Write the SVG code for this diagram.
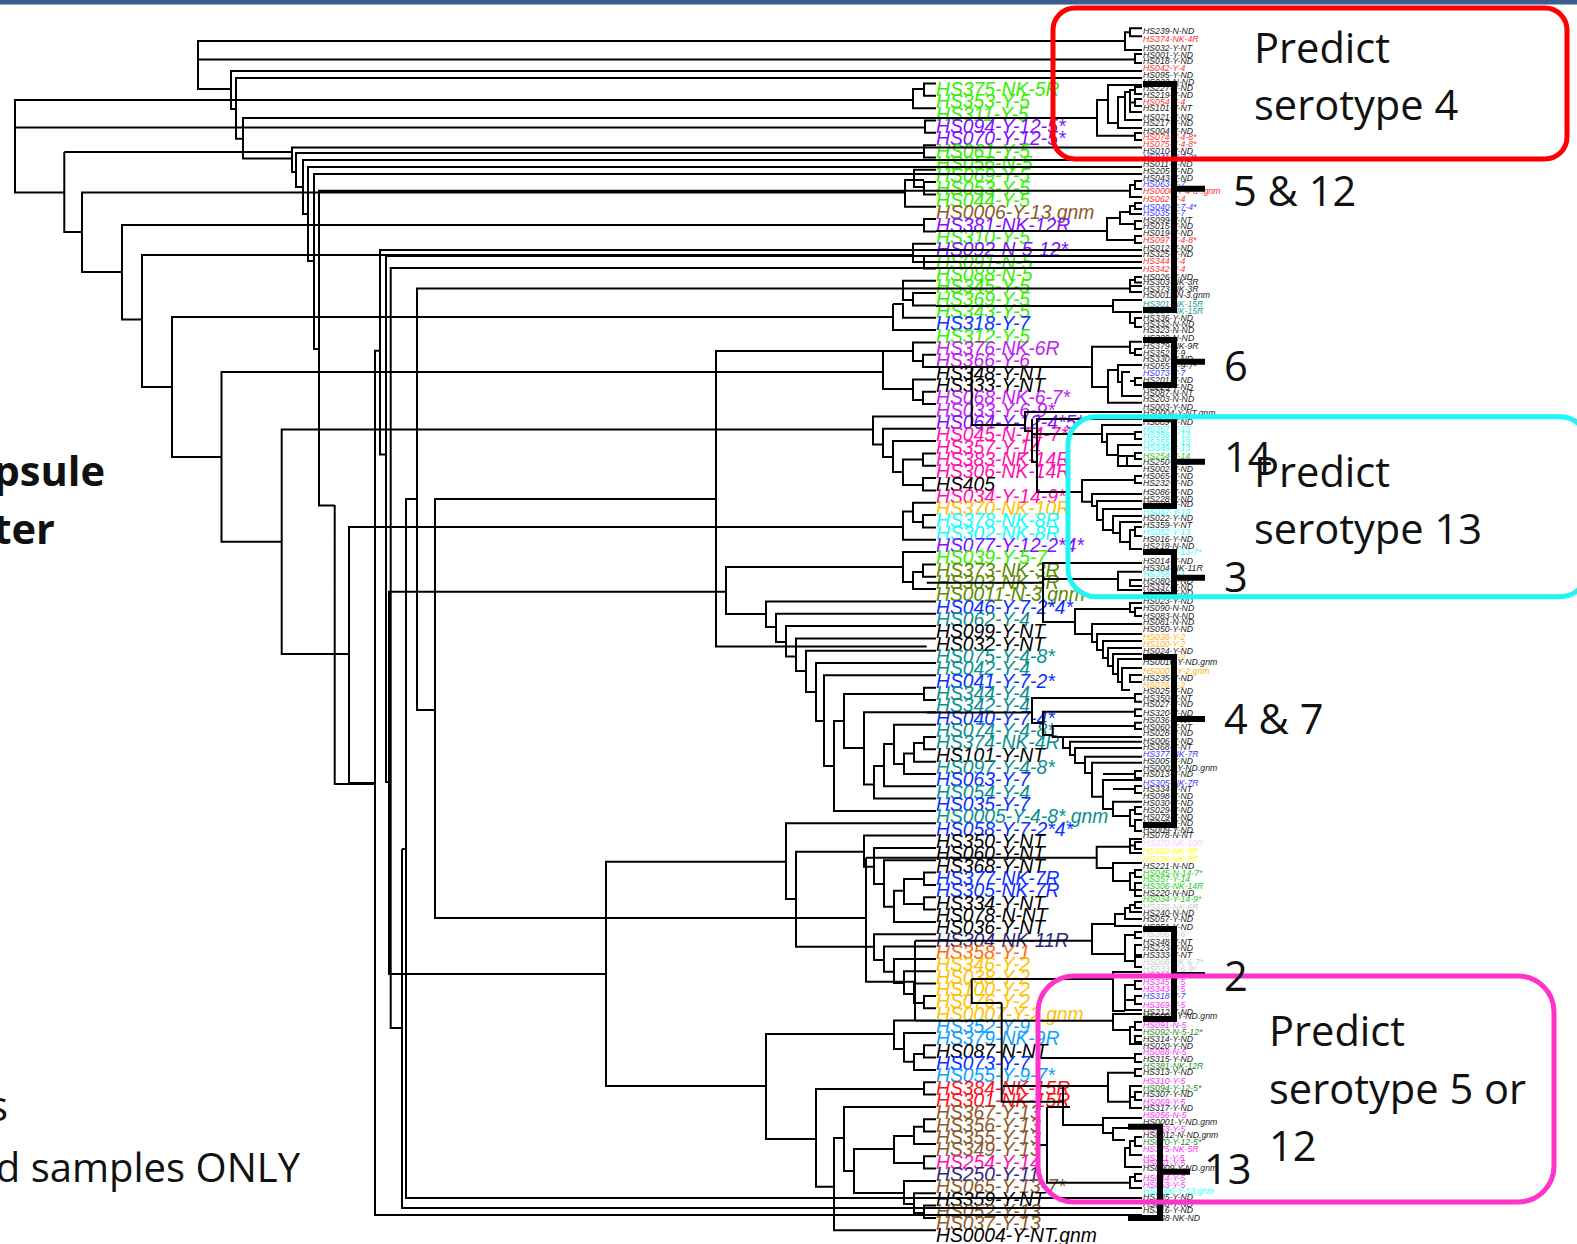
<svg xmlns="http://www.w3.org/2000/svg" width="1577" height="1244" viewBox="0 0 1577 1244">
<style>
text{font-family:"Liberation Sans",Arial,sans-serif}
.l text{font-size:21px;font-style:italic;fill:#000}
.r text{font-size:9.4px;font-style:italic;fill:#222}
.big text{font-family:"Open Sans","Liberation Sans",sans-serif;font-size:41.6px;fill:#111}
.t{fill:none;stroke:#000;stroke-width:2}
.bar{fill:none;stroke:#000;stroke-width:6}
.box{fill:none;stroke-width:5}
.g{fill:#33f000!important}.p{fill:#8010ff!important}.bn{fill:#8b5a2b!important}.b{fill:#0a30ff!important}
.m{fill:#c020f0!important}.k{fill:#ff10b0!important}.y{fill:#ffc000!important}.c{fill:#1ff!important}
.o{fill:#5a8a00!important}.e{fill:#0a8f8f!important}.f{fill:#ff6a10!important}.s{fill:#10a0ff!important}
.d{fill:#ff1020!important}.n{fill:#2a2a80!important}
.R{fill:#ff3030!important}.B{fill:#3a3aff!important}.C{fill:#33ffff!important}.O{fill:#ffb020!important}
.T{fill:#2a9d9d!important}.G{fill:#22cc22!important}.D{fill:#228b22!important}.M{fill:#ff30ff!important}
.W{fill:#ccc!important}.P{fill:#fcf!important}.Y{fill:#ffff20!important}
</style>
<rect id="top-bar" x="0" y="0" width="1577" height="4.5" fill="#3a5f8f"/>
<g id="left-labels" class="l" transform="translate(936,2) scale(.92,1)">
<text y="94" class="g">HS375-NK-5R</text><text y="106.3" class="g">HS353-Y-5</text><text y="118.7" class="g">HS311-Y-5</text><text y="131" class="p">HS094-Y-12-5*</text><text y="143.3" class="p">HS070-Y-12-5*</text><text y="155.7" class="g">HS061-Y-5</text><text y="168" class="g">HS056-N-5</text><text y="180.3" class="g">HS069-Y-5</text><text y="192.6" class="g">HS053-Y-5</text><text y="205" class="g">HS044-Y-5</text><text y="217.3" class="bn">HS0006-Y-13.gnm</text><text y="229.6" class="p">HS381-NK-12R</text><text y="242" class="g">HS310-Y-5</text><text y="254.3" class="p">HS092-N-5-12*</text><text y="266.6" class="g">HS091-N-5</text><text y="279" class="g">HS088-N-5</text><text y="291.3" class="g">HS345-Y-5</text><text y="303.6" class="g">HS369-Y-5</text><text y="315.9" class="g">HS343-Y-5</text><text y="328.3" class="b">HS318-Y-7</text><text y="340.6" class="g">HS312-Y-5</text><text y="352.9" class="m">HS376-NK-6R</text><text y="365.3" class="m">HS366-Y-6</text><text y="377.6">HS348-Y-NT</text><text y="389.9">HS333-Y-NT</text><text y="402.3" class="m">HS068-NK-6-7*</text><text y="414.6" class="m">HS033-Y-6-9*</text><text y="426.9" class="p">HS064-Y-12-4*5*</text><text y="439.2" class="k">HS045-N-14-7*</text><text y="451.6" class="k">HS357-Y-14</text><text y="463.9" class="k">HS383-NK-14R</text><text y="476.2" class="k">HS306-NK-14R</text><text y="488.6">HS405</text><text y="500.9" class="k">HS034-Y-14-9*</text><text y="513.2" class="y">HS370-NK-10R</text><text y="525.5" class="c">HS378-NK-8R</text><text y="537.9" class="c">HS302-NK-8R</text><text y="550.2" class="p">HS077-Y-12-2*4*</text><text y="562.5" class="g">HS039-Y-5-7</text><text y="574.9" class="o">HS373-NK-3R</text><text y="587.2" class="o">HS303-NK-3R</text><text y="599.5" class="o">HS0011-N-3.gnm</text><text y="611.9" class="b">HS046-Y-7-2*4*</text><text y="624.2" class="e">HS062-Y-4</text><text y="636.5">HS099-Y-NT</text><text y="648.9">HS032-Y-NT</text><text y="661.2" class="e">HS075-Y-4-8*</text><text y="673.5" class="e">HS042-Y-4</text><text y="685.8" class="b">HS041-Y-7-2*</text><text y="698.2" class="e">HS344-Y-4</text><text y="710.5" class="e">HS342-Y-4</text><text y="722.8" class="b">HS040-Y-7-4*</text><text y="735.2" class="e">HS074-Y-4-8*</text><text y="747.5" class="e">HS374-NK-4R</text><text y="759.8">HS101-Y-NT</text><text y="772.2" class="e">HS097-Y-4-8*</text><text y="784.5" class="b">HS063-Y-7</text><text y="796.8" class="e">HS054-Y-4</text><text y="809.1" class="b">HS035-Y-7</text><text y="821.5" class="e">HS0005-Y-4-8*.gnm</text><text y="833.8" class="b">HS058-Y-7-2*4*</text><text y="846.1">HS350-Y-NT</text><text y="858.5">HS060-Y-NT</text><text y="870.8">HS368-Y-NT</text><text y="883.1" class="b">HS377-NK-7R</text><text y="895.5" class="b">HS305-NK-7R</text><text y="907.8">HS334-Y-NT</text><text y="920.1">HS078-N-NT</text><text y="932.4">HS036-Y-NT</text><text y="944.8" class="n">HS304-NK-11R</text><text y="957.1" class="f">HS358-Y-1</text><text y="969.4" class="y">HS346-Y-2</text><text y="981.8" class="y">HS038-Y-2</text><text y="994.1" class="y">HS100-Y-2</text><text y="1006.4" class="y">HS076-Y-2</text><text y="1018.8" class="y">HS0007-Y-2.gnm</text><text y="1031.1" class="s">HS352-Y-9</text><text y="1043.4" class="s">HS379-NK-9R</text><text y="1055.7">HS087-N-NT</text><text y="1068.1" class="b">HS073-Y-7</text><text y="1080.4" class="s">HS055-Y-9-7*</text><text y="1092.7" class="d">HS384-NK-15R</text><text y="1105.1" class="d">HS301-NK-15R</text><text y="1117.4" class="bn">HS367-Y-13</text><text y="1129.7" class="bn">HS356-Y-13</text><text y="1142.1" class="bn">HS355-Y-13</text><text y="1154.4" class="bn">HS349-Y-13</text><text y="1166.7" class="k">HS254-Y-14</text><text y="1179" class="n">HS250-Y-11</text><text y="1191.4" class="bn">HS065-Y-13-7*</text><text y="1203.7">HS359-Y-NT</text><text y="1216" class="bn">HS052-Y-13</text><text y="1228.4" class="bn">HS037-Y-13</text><text y="1240">HS0004-Y-NT.gnm</text>
</g>
<g id="right-labels" class="r" transform="translate(1143,0) scale(.925,1)">
<text y="34">HS239-N-ND</text><text y="42" class="R">HS374-NK-4R</text><text y="51">HS032-Y-NT</text><text y="57.7">HS001-Y-ND</text><text y="64">HS018-Y-ND</text><text y="71" class="R">HS042-Y-4</text><text y="78">HS095-Y-ND</text><text y="84.7">HS022-N-ND</text><text y="91.3">HS227-Y-ND</text><text y="98">HS219-Y-ND</text><text y="104.7" class="R">HS054-Y-4</text><text y="111.3">HS101-Y-NT</text><text y="119.7">HS021-Y-ND</text><text y="126">HS217-Y-ND</text><text y="133.7">HS004-Y-ND</text><text y="140" class="R">HS074-Y-4-8*</text><text y="147" class="R">HS075-Y-4-8*</text><text y="153.7">HS010-Y-ND</text><text y="160" class="B">HS041-Y-7-2*</text><text y="167">HS011-Y-ND</text><text y="173.7">HS205-Y-ND</text><text y="180.7">HS043-Y-ND</text><text y="187.3" class="B">HS063-Y-7</text><text y="194" class="R">HS0008-Y-4-8*.gnm</text><text y="202" class="R">HS062-Y-4</text><text y="209.7" class="B">HS040-Y-7-4*</text><text y="216" class="B">HS035-Y-7</text><text y="223">HS099-Y-NT</text><text y="229">HS015-Y-ND</text><text y="236">HS019-Y-ND</text><text y="243" class="R">HS097-Y-4-8*</text><text y="251">HS012-Y-ND</text><text y="257">HS325-Y-ND</text><text y="264" class="R">HS344-Y-4</text><text y="272" class="R">HS342-Y-4</text><text y="280">HS026-Y-ND</text><text y="285">HS303-NK-3R</text><text y="292">HS373-NK-3R</text><text y="298">HS0011-N-3.gnm</text><text y="307" class="T">HS301-NK-15R</text><text y="314" class="T">HS384-NK-15R</text><text y="321">HS336-Y-ND</text><text y="327">HS332-N-ND</text><text y="333">HS323-N-ND</text><text y="341">HS309-N-ND</text><text y="348.7">HS379-NK-9R</text><text y="355.7">HS352-Y-9</text><text y="362">HS330-Y-ND</text><text y="369">HS055-Y-9-7*</text><text y="376" class="B">HS073-Y-7</text><text y="383">HS201-Y-ND</text><text y="390">HS225-Y-ND</text><text y="396">HS087-N-NT</text><text y="402">HS203-N-ND</text><text y="409.7">HS003-Y-ND</text><text y="416">HS0004-Y-NT.gnm</text><text y="424.7">HS089-Y-ND</text><text y="432" class="C">HS367-Y-13</text><text y="438" class="C">HS356-Y-13</text><text y="444.7" class="C">HS355-Y-13</text><text y="451" class="C">HS349-Y-13</text><text y="458.7" class="G">HS254-Y-14</text><text y="465">HS250-Y-11</text><text y="472">HS002-Y-ND</text><text y="478.7">HS065-Y-ND</text><text y="485.7">HS232-Y-ND</text><text y="494.7">HS086-Y-ND</text><text y="502">HS228-Y-ND</text><text y="507">HS229-Y-ND</text><text y="514.7" class="C">HS037-Y-13</text><text y="521">HS022-Y-ND</text><text y="528">HS359-Y-NT</text><text y="534.7" class="C">HS052-Y-13</text><text y="542">HS016-Y-ND</text><text y="548.7">HS218-N-ND</text><text y="554.7" class="C">HS065-Y-13-7*</text><text y="563.7">HS014-Y-ND</text><text y="570.7">HS304-NK-11R</text><text y="577" class="C">HS358-Y-1</text><text y="583.7">HS080-Y-ND</text><text y="590">HS337-Y-ND</text><text y="596">HS300-Y-ND</text><text y="604">HS023-Y-ND</text><text y="611">HS090-N-ND</text><text y="618.7">HS083-N-ND</text><text y="625">HS081-N-ND</text><text y="632">HS050-Y-ND</text><text y="640" class="O">HS038-Y-2</text><text y="647" class="O">HS100-Y-2</text><text y="654">HS024-Y-ND</text><text y="660" class="O">HS346-Y-2</text><text y="665">HS0010-Y-ND.gnm</text><text y="673.7" class="O">HS0007-Y-2.gnm</text><text y="680.7">HS235-Y-ND</text><text y="687.7" class="O">HS076-Y-2</text><text y="694">HS025-Y-ND</text><text y="700.7">HS350-Y-NT</text><text y="707">HS027-Y-ND</text><text y="716">HS320-Y-ND</text><text y="723">HS036-Y-NT</text><text y="729.7">HS060-Y-NT</text><text y="736">HS028-Y-ND</text><text y="743.7">HS006-Y-ND</text><text y="749.7">HS368-Y-NT</text><text y="757" class="B">HS377-NK-7R</text><text y="763.7">HS005-Y-ND</text><text y="771">HS0002-Y-ND.gnm</text><text y="777">HS013-Y-ND</text><text y="785.7" class="B">HS305-NK-7R</text><text y="792">HS334-Y-NT</text><text y="799">HS098-Y-ND</text><text y="805.7">HS030-Y-ND</text><text y="813">HS029-Y-ND</text><text y="819.7">HS079-Y-ND</text><text y="826">HS070-Y-ND</text><text y="833">HS009-Y-ND</text><text y="838">HS078-N-NT</text><text y="846" class="P">HS370-NK-10R</text><text y="854" class="Y">HS302-NK-8R</text><text y="862" class="Y">HS378-NK-8R</text><text y="868.7">HS221-N-ND</text><text y="875.7" class="G">HS045-N-14-7*</text><text y="882" class="G">HS357-Y-14</text><text y="889" class="G">HS306-NK-14R</text><text y="895.7">HS220-N-ND</text><text y="902" class="G">HS034-Y-14-9*</text><text y="909.7" class="W">HS376-NK-6R</text><text y="915.7">HS240-N-ND</text><text y="922">HS057-Y-ND</text><text y="929.7">HS051-Y-ND</text><text y="937" class="W">HS366-Y-6</text><text y="944.7">HS348-Y-NT</text><text y="951">HS223-Y-ND</text><text y="958">HS333-Y-NT</text><text y="965" class="W">HS068-NK-6-7*</text><text y="972" class="W">HS033-Y-6-9*</text><text y="978" class="M">HS312-Y-5</text><text y="984.7" class="M">HS345-Y-5</text><text y="992" class="M">HS343-Y-5</text><text y="999" class="B">HS318-Y-7</text><text y="1008" class="M">HS369-Y-5</text><text y="1014.7">HS212-Y-ND</text><text y="1019">HS0003-Y-ND.gnm</text><text y="1028" class="M">HS091-N-5</text><text y="1034.7" class="D">HS092-N-5-12*</text><text y="1042">HS314-Y-ND</text><text y="1048.7">HS020-Y-ND</text><text y="1054.7" class="M">HS088-N-5</text><text y="1061.7">HS315-Y-ND</text><text y="1068.7" class="D">HS381-NK-12R</text><text y="1075">HS313-Y-ND</text><text y="1083.7" class="M">HS310-Y-5</text><text y="1090.7" class="D">HS094-Y-12-5*</text><text y="1097.3">HS307-Y-ND</text><text y="1104.7" class="M">HS069-Y-5</text><text y="1110.7">HS317-Y-ND</text><text y="1118" class="M">HS056-N-5</text><text y="1125">HS0001-Y-ND.gnm</text><text y="1131.7" class="M">HS353-Y-5</text><text y="1138">HS0012-N-ND.gnm</text><text y="1144.7" class="D">HS070-Y-12-5*</text><text y="1152" class="M">HS375-NK-5R</text><text y="1160.7" class="M">HS311-Y-5</text><text y="1166" class="M">HS061-Y-5</text><text y="1171.3">HS0009-Y-ND.gnm</text><text y="1180.7" class="M">HS044-Y-5</text><text y="1188" class="M">HS053-Y-5</text><text y="1194" class="C">HS0006-Y-13.gnm</text><text y="1200">HS385-Y-ND</text><text y="1207">HS008-Y-ND</text><text y="1213">HS316-Y-ND</text><text y="1220.7">HS338-NK-ND</text>
</g>
<g id="connectors">
<path id="backbone" class="t" d="M1125 41H198V89H231M198 59.4H1135M1142 71H231V109H236M1142 78H236V138.7H243M1097 118H243V158.6H292M913 100H15V192.5H64.3M15 127.5H925M1142 147.6H292V172H296M64.3 152H292M924 153H296V187H303M1142 160H303V214H308M1142 167H308V261H314M1142 174H314V349H319M1130 190.7H319V505.5H334.7M905 192.5H82V272H122M64.3 152V232H82M924 225H122V319.5H142M913 255H142V387H172M893 317H172V457H221.5M883 372H221.5V541.7H281.7M873 429.6H281.7V654H349M903 527H349V783H375M334.7 505V784H375M1142 1215H375V350.7H380M1142 250H380V454.6H386M1142 256H386V782H389M726 591.7H389V974H606M1142 268H390.7V1028H402M402 849H406M402 849V1208H1142M1142 1198H406V499H417M1130 288.6H417V710H435M716 499H435V918H866"/>
<path id="left-clade-a" class="t" d="M936 83.5H924V95.8H936M924 89H913V108.2H936M936 120.5H925V132.8H936M936 145.2H924V157.5H936M936 169.8H914V187H924M924 180H905V206.8H936M936 182.1H924V194.5H936M936 219.1H924V231.5H936M936 243.8H913V262H924M936 256.1H924V268.5H936M936 280.8H903V300H913M936 293.1H913V305.4H936M893 304H903V317.8H936M893 304V330.1H936"/>
<path id="left-clade-b" class="t" d="M913 351H716V646.4H926.7M936 342.4H913V361H923M936 354.8H923V367.1H936M883 351V389H913M936 379.4H913V400H923M936 391.8H923V404.1H936M936 416.4H873V444.6H883M936 428.7H883V457H893M936 441.1H893V472H903M923 459.6H903V485H923M936 453.4H923V465.7H936M936 478.1H923V490.4H936M913 511.4H903V539.7H936M936 502.7H913V522H923M936 515H923V527.4H936M936 552H903V582H913M936 564.4H923V576.7H936M923 572H913V589H936M903 567H726V614H766M936 601.4H766V627H776M936 613.7H776V642H786M936 626H786V656.4H796M936 638.4H796V671H806M936 650.7H806V692H816M936 663H816V721H824M936 675.3H824V766H834M844 721H834V811H936M924 694H844V748H864M936 687.7H924V700H936M936 712.3H864V784.6H874M884 766H874V798.6H936M894 744H884V786.3H936M936 724.7H894V764H904M914 753.6H904V774H936M924 743H914V761.7H936M936 737H924V749.3H936"/>
<path id="left-clade-c" class="t" d="M786 861.7H606V1086H766M936 823.3H786V899H796M864 851.7H796V946.7H874M936 835.6H864V866.7H874M936 848H874V884H884M936 860.3H884V906.7H894M904 890.7H894V921.9H936M924 879H904V904H924M936 872.6H924V885H936M936 897.3H924V909.6H936M936 934.3H874V960H884M936 946.6H884V971.7H894M936 958.9H894V983H904M936 971.3H904V994H914M936 983.6H914V1003H924M936 995.9H924V1008.3H936M866 857.7V981.7H915M866 857.7H1096.7M915 940.7V1020.7M915 940.7H1092M915 1020.7H1113M894 1034H766V1139H816M936 1020.6H894V1049H904M936 1032.9H904V1061.7H914M924 1054H914V1069.9H936M936 1045.2H924V1057.6H936M924 1089H816V1186.7H834M936 1082.2H924V1094.6H936M844 1138H834V1230.2H936M936 1106.9H844V1171H854M894 1149H854V1193H904M914 1136H894V1163H924M924 1126.7H914V1143.9H936M936 1119.2H924V1131.6H936M936 1156.2H924V1168.5H936M936 1180.9H904V1204H914M936 1193.2H914V1213H924M936 1205.5H924V1217.9H936"/>
<path id="right-clade-a" class="t" d="M1142 28.3H1130V36.3H1142M1130 32.3H1125V50H1142M1142 54H1135V63H1142M1108 100H1097V135.7H1135M1142 85H1108V123H1118M1142 133H1135V140H1142M1125 97H1118V128H1142M1130 92H1125V120H1142M1135 90H1130V112H1142M1142 87H1135V94H1142M1142 99H1135V106H1142M1135 102.5H1130M1142 181H1135V189H1142M1135 185H1130V197H1142M1120 218H1107V240H1135M1130 212H1120V224H1135M1142 203H1135V209H1142M1135 206H1130V214H1142M1142 221H1135V229H1142M1142 236H1135V243H1142M936 231H1107M924 262H1142M1142 277H1135V282.5H1142M1135 280H1130V292H1142M1130 286H1142M936 306H1113M1142 300H1113V312H1130M1142 312H1130V323H1135M1142 318H1135V327H1142"/>
<path id="right-clade-b" class="t" d="M936 367H1092M1130 346.7H1092V387H1108M1142 341.7H1130V353H1135M1142 349H1135V355H1142M1118 370H1108V402.7H1142M1142 365H1118V382H1122M1130 372H1122V396H1142M1142 378H1135V385H1142M1135 381H1130M971.7 367V425H1025M1142 412H1025V431H1032M1032 419V462H1037M1032 434H1102M1142 419H1037V492H1082M1142 425H1102V442H1107M1135 434H1107V455H1118M1142 432H1135V439H1142M1142 445H1118V466H1142M1127 456H1118M1142 453H1135V459H1142M1135 456H1127V466M1135 480H1082V501.7H1092M1142 476H1135V483H1142M1142 494H1092V506H1097M1142 501H1097V520H1103M1142 509H1103V530H1113M1142 516H1113V533H1120M1142 522H1120V542H1130M1135 530H1130V549H1142M1142 527H1135V536H1142M926.7 582.7H1043M1142 563H1043V622H1075M1043 579H1118M1142 571.7H1118V590H1142M1142 580H1130V586H1142M1130 609H1075V634H1092M1142 603H1130V612H1135M1142 608H1135V616H1142M1142 624H1092V642H1097M1142 634H1097V650H1103M1142 641H1103V658H1108M1142 648H1108V666H1113M1142 654H1113V674H1118M1142 659H1118V682H1122M1142 668H1122V690H1130M1142 675H1130V682H1142"/>
<path id="right-clade-c" class="t" d="M926.7 712.5H1032M1135 698H1032V723H1043M1142 694H1135V701.7H1142M1135 711.7H1043V735H1052.7M1142 709.3H1135V716H1142M1135 726H1052.7V737H1063M1142 722.7H1135V729H1142M1142 737H1063V748H1070M1142 741.7H1070V755H1075M1142 748H1075V763H1085M1142 756.7H1085V773H1092M1142 762.7H1092V796.7H1103M1142 771H1135V778H1142M1135 774H1103M1142 780H1103V809H1113M1142 786H1135V793H1142M1135 789H1113M1142 801.7H1113V816H1130M1142 807H1135V814H1142M1135 810H1130V826H1135M1142 820H1135V831H1142M1130 846.7H1096.7V868H1113M1142 839H1130V853H1142M1142 842H1135V849H1142M1135 845.5H1130M1142 863H1113V881H1130M1135 873H1130V890H1142M1142 870H1135V877H1142M1142 883H1135V896H1142"/>
<path id="right-clade-d" class="t" d="M1115 924H1092V954H1125M1125 914H1115V926H1142M1142 902H1135V908H1142M1135 905H1130V912H1142M1130 908H1125V919H1142M1142 932H1135V938H1142M1135 935H1125V961H1135M1142 945H1135V955H1142M1142 957H1135V967H1142M971.7 979H1113M971.7 979V1003H1001.7M1001.7 1003V1101.7H1063M1142 972H1113V1011H1125M1135 985H1125V1010H1142M1142 981H1135V989H1142M1125 1000H1135M1142 996H1135V1004H1142M1142 1014H1113V1030H1130M1135 1027H1130V1044H1142M1142 1022H1135V1030H1142M1142 1036H1135V1042H1142M1040 1058H1135M1142 1054H1135V1062H1142M1003 1086H1108M1135 1072.7H1108V1101.7H1130M1142 1069H1135V1076H1142M1142 1086H1130V1108H1142M1130 1097H1135M1142 1092H1135V1100H1142M1063 1086V1125H1103M1142 1118H1103V1133H1113M1142 1128H1113V1140H1125M1130 1148H1125V1167H1142M1135 1141H1130V1155H1142M1142 1137H1135V1146H1142M1037 1145H1047M1047 1107V1182.7H1130M1047 1107H1070M1142 1174H1135V1181H1142M1135 1177H1130V1188H1142"/>
</g>
<g id="cluster-bars">
<path class="bar" d="M1143 84H1174V310H1143M1174 188.7H1205"/>
<path class="bar" d="M1143 340H1174V385H1143M1174 361.7H1205"/>
<path class="bar" d="M1143 419H1174V506H1143M1174 461.7H1205"/>
<path class="bar" d="M1143 552H1174V595H1143M1174 577.7H1205"/>
<path class="bar" d="M1143 657H1174V825H1143M1174 719H1205"/>
<path class="bar" d="M1143 929H1174V1019H1143M1174 975H1205"/>
<path class="bar" d="M1128 1126.7H1160V1218H1128M1160 1171.7H1190"/>
</g>
<g id="box-serotype-4"><rect class="box" x="1053" y="8" width="514" height="151" rx="22" stroke="#ff0000"/></g>
<g id="box-serotype-13"><rect class="box" x="1068" y="416.7" width="520" height="180" rx="28" stroke="#1ff5f5"/></g>
<g id="box-serotype-5-12"><rect class="box" x="1038" y="976" width="516" height="226" rx="36" stroke="#ff33cc"/></g>
<g id="labels" class="big">
<text x="1254" y="62.5">Predict</text><text x="1254" y="119.5">serotype 4</text>
<text x="1254" y="486.5">Predict</text><text x="1254" y="543.5">serotype 13</text>
<text x="1269" y="1045.5">Predict</text><text x="1269" y="1103.5">serotype 5 or</text><text x="1269" y="1160.5">12</text>
<text x="1233" y="205.5">5 &amp; 12</text><text x="1224" y="380.5">6</text><text x="1224" y="471.5">14</text><text x="1224" y="591.5">3</text><text x="1224" y="733.5">4 &amp; 7</text><text x="1224" y="990.5">2</text><text x="1204" y="1183.5">13</text>
<text x="105" y="485.6" text-anchor="end" font-weight="700">psule</text><text x="55" y="543.7" text-anchor="end" font-weight="700">ter</text>
<text x="8" y="1120.6" text-anchor="end">s</text><text x="300" y="1182" text-anchor="end" style="font-size:40px">d samples ONLY</text>
</g>
</svg>
